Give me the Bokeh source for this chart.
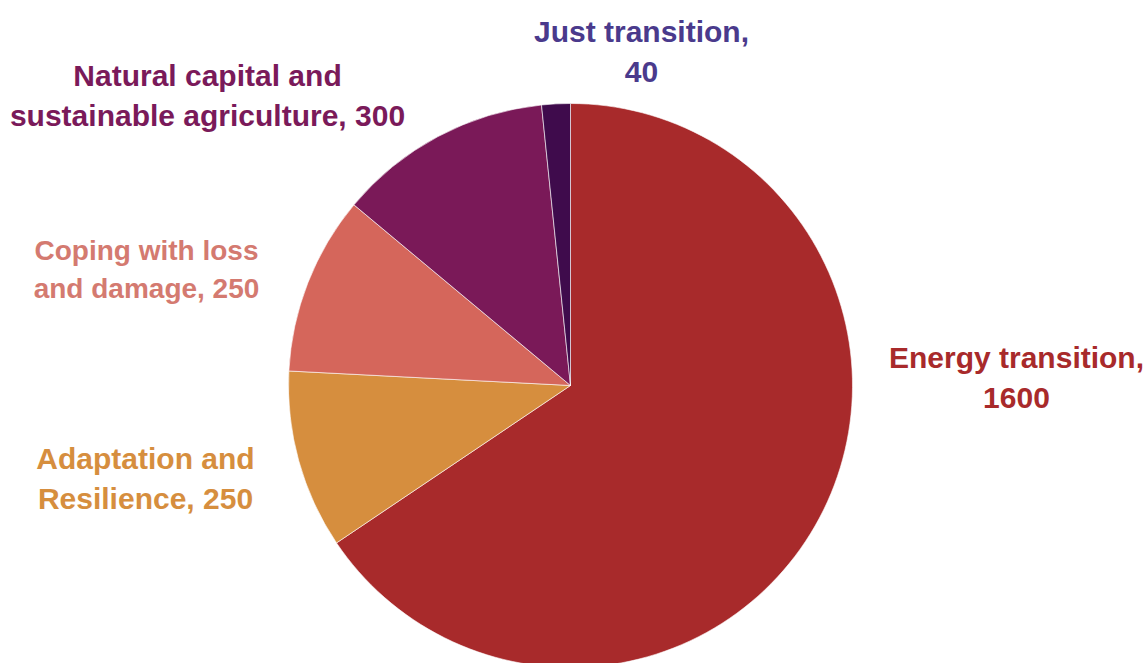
import numpy as np
from bokeh.plotting import figure
from bokeh.models import Range1d, ColumnDataSource
from bokeh.core.properties import value
from bokeh.embed import file_html
from bokeh.resources import INLINE

# Data (clockwise from 12 o'clock)
categories = ["Energy transition", "Adaptation and Resilience", "Coping with loss and damage",
              "Natural capital and sustainable agriculture", "Just transition"]
values = [1600, 250, 250, 300, 40]
label_texts = ["Energy transition,\n1600", "Adaptation and\nResilience, 250",
               "Coping with loss\nand damage, 250", "Natural capital and\nsustainable agriculture, 300",
               "Just transition,\n40"]
slice_colors = ["#A82A2B", "#D68E3E", "#D5665B", "#7A1958", "#3F0B4C"]
label_colors = ["#A82A2B", "#D68E3E", "#D47A70", "#7A1A5A", "#4A3A8C"]

# Layout
W, H = 1146, 663
cx, cy, r = 570, H - 385, 282
label_x = [1016, 145, 146, 207, 641]
label_y = [H - 377, H - 478, H - 269, H - 95, H - 51]
label_sizes = ["30px", "30px", "28px", "30px", "30px"]

vals = np.array(values, dtype=float)
frac = vals / vals.sum()
cum = np.concatenate([[0], np.cumsum(frac)])
start = np.pi / 2 - cum[1:] * 2 * np.pi
end = np.pi / 2 - cum[:-1] * 2 * np.pi

src = ColumnDataSource(dict(cat=categories, val=values, start=start, end=end, color=slice_colors))

p = figure(width=W, height=H, x_range=Range1d(0, W), y_range=Range1d(0, H),
           output_backend="svg", toolbar_location=None, min_border=0)
p.axis.visible = False
p.grid.visible = False
p.outline_line_color = None
p.background_fill_color = "white"

p.wedge(x=cx, y=cy, radius=r, start_angle="start", end_angle="end", direction="anticlock",
        fill_color="color", line_color="white", line_width=0.6, source=src)

lsrc = ColumnDataSource(dict(x=label_x, y=label_y, t=label_texts, c=label_colors, s=label_sizes))
p.text(x="x", y="y", text="t", text_color="c", text_font_size="s", source=lsrc,
       text_font=value("Liberation Sans"), text_font_style="bold",
       text_align="center", text_baseline="middle", text_line_height=1.2)

open("out.html", "w").write(file_html(p, INLINE))
